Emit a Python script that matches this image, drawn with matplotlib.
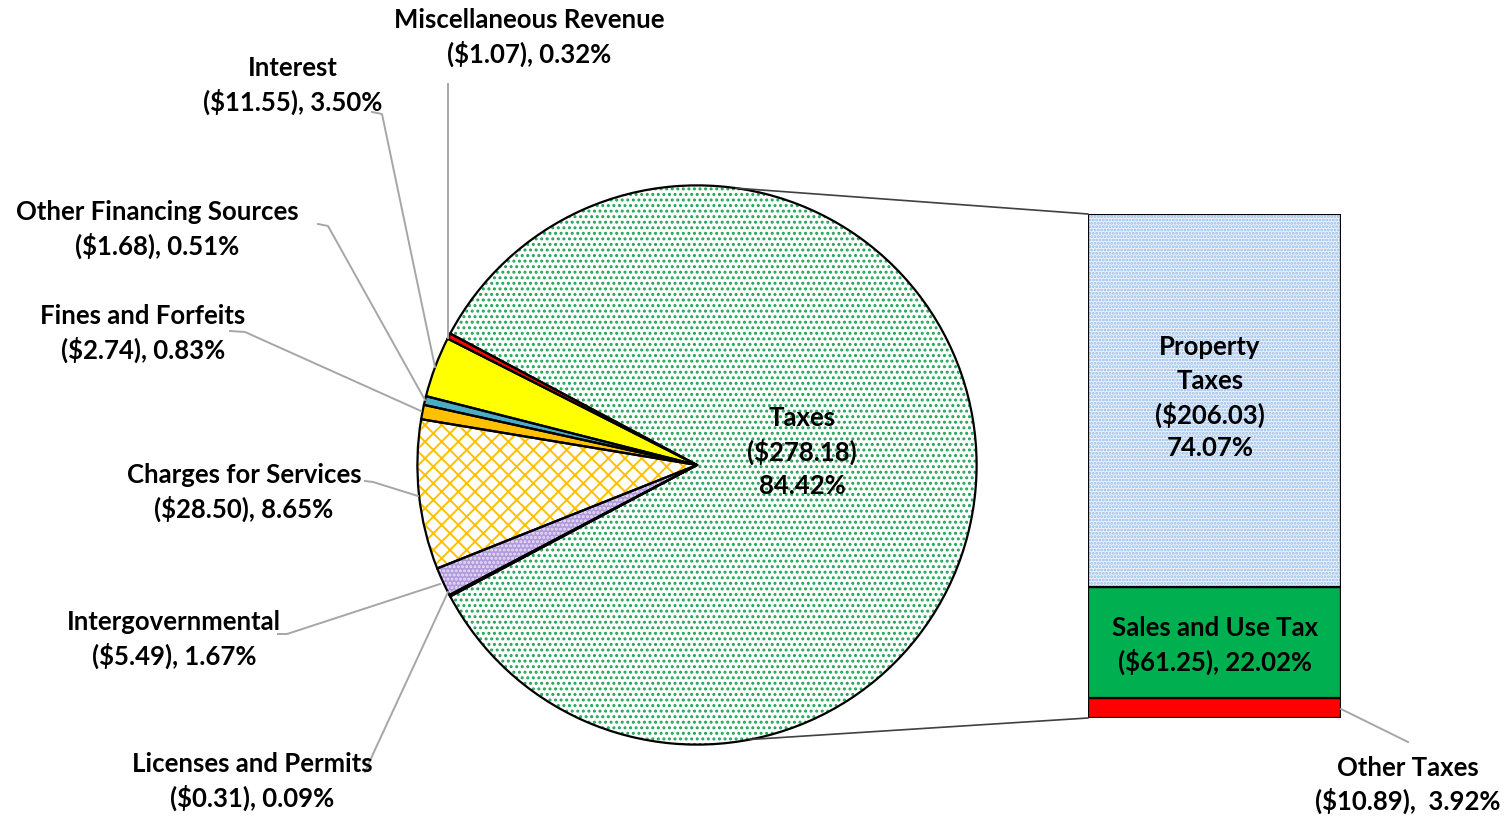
import matplotlib
matplotlib.use("Agg")
import matplotlib.pyplot as plt
from matplotlib.patches import ConnectionPatch
import numpy as np

plt.rcParams['font.family'] = ['Lato', 'DejaVu Sans']
plt.rcParams['hatch.linewidth'] = 1.4

# ---- data ----
pie_names = ["Miscellaneous Revenue", "Interest", "Other Financing Sources",
             "Fines and Forfeits", "Charges for Services", "Intergovernmental",
             "Licenses and Permits", "Taxes"]
pie_values = [1.07, 11.55, 1.68, 2.74, 28.50, 5.49, 0.31, 278.18]
pie_pcts = [0.32, 3.50, 0.51, 0.83, 8.65, 1.67, 0.09, 84.42]

bar_names = ["Other Taxes", "Sales and Use Tax", "Property Taxes"]
bar_values = [10.89, 61.25, 206.03]
bar_pcts = [3.92, 22.02, 74.07]

# ---- styles ----
pie_face = ["#FF0000", "#FFFF00", "#4BACC6", "#FFC000", "#FFFFFF", "#B09ADB", "#7F7F7F", "#FFFFFF"]
pie_hatch = [None, None, None, None, "xx", "....", None, "..."]
pie_hcol = [None, None, None, None, "#FFC000", "#E9E1F5", None, "#1FA455"]

W, H = 1508, 820
fig = plt.figure(figsize=(W / 100, H / 100), dpi=100)

# pie axes: centre (697,466), radius 281 px
cx, cy, r = 697, 466, 281
pax = fig.add_axes([(cx - r) / W, (H - cy - r) / H, 2 * r / W, 2 * r / H])
small = sum(pie_values[:-1]) / sum(pie_values) * 360
start = 180 - small / 2
w1, _ = pax.pie(pie_values, startangle=start, counterclock=True, radius=1,
                wedgeprops=dict(linewidth=0))
for w, fc, hc, hcol in zip(w1, pie_face, pie_hatch, pie_hcol):
    w.set_facecolor(fc)
    if hc:
        w.set_hatch(hc)
        w.set_edgecolor(hcol)
w2, _ = pax.pie(pie_values, startangle=start, counterclock=True, radius=1,
                wedgeprops=dict(fill=False, edgecolor="black", linewidth=1.6))
pax.set_xlim(-1.005, 1.005)
pax.set_ylim(-1.005, 1.005)
pax.axis("off")

# bar axes
bl, br, bt, bb = 1088, 1341, 215, 719
bax = fig.add_axes([bl / W, (H - bb) / H, (br - bl) / W, (bb - bt) / H])
bar_face = ["#FF0000", "#00B050", "#EEF4FC"]
bar_hatch = [None, None, "....."]
bottom = 0
for v, fc, hc in zip(bar_values, bar_face, bar_hatch):
    b = bax.bar(0, v, bottom=bottom, width=1, color=fc, linewidth=0)[0]
    if hc:
        b.set_hatch(hc)
        b.set_edgecolor("#93BBEA")
    bax.bar(0, v, bottom=bottom, width=1, fill=False, edgecolor="black", linewidth=1.6)
    bottom += v
bax.set_xlim(-0.5, 0.5)
bax.set_ylim(0, sum(bar_values))
bax.axis("off")

# overlay axes for labels and leader lines (pixel coordinates)
ax = fig.add_axes([0, 0, 1, 1])
ax.set_xlim(0, W)
ax.set_ylim(H, 0)
ax.axis("off")
ax.patch.set_alpha(0)

# connectors pie -> bar
for ang, yb in [(82, sum(bar_values)), (-79, 0)]:
    t = np.deg2rad(ang)
    con = ConnectionPatch(xyA=(np.cos(t), np.sin(t)), coordsA=pax.transData,
                          xyB=(-0.5, yb), coordsB=bax.transData,
                          color="#404040", linewidth=1.2)
    fig.add_artist(con)

fs = 18.5
lc = "#A6A6A6"

def label(lines, x, y0, pitch=34):
    for i, s in enumerate(lines):
        ax.text(x, y0 + i * pitch, s, ha="center", va="center", fontsize=fs,
                fontweight="bold", color="black", zorder=5)

def fmt_money(v):
    return f"(${v:.2f})"

# pie labels (positions in px)
lab_pos = {
    "Miscellaneous Revenue": (529, 20),
    "Interest": (293, 68),
    "Other Financing Sources": (157, 212),
    "Fines and Forfeits": (143, 316),
    "Charges for Services": (244, 475),
    "Intergovernmental": (174, 622),
    "Licenses and Permits": (252, 764),
}
for n, v, p in zip(pie_names, pie_values, pie_pcts):
    if n in lab_pos:
        x, y = lab_pos[n]
        label([n, f"{fmt_money(v)}, {p:.2f}%"], x, y)
label([pie_names[-1], fmt_money(pie_values[-1]), f"{pie_pcts[-1]:.2f}%"], 802, 418)

# leader lines
leaders = [
    [(448, 85), (448, 339)],
    [(372, 113), (382, 115), (435, 368)],
    [(318, 225), (328, 227), (425, 401)],
    [(230, 332), (245, 333), (421, 412)],
    [(365, 482), (373, 483), (418, 497)],
    [(278, 635), (287, 635), (440, 585)],
    [(365, 773), (373, 755), (448, 593)],
    [(1341, 710), (1408, 743)],
]
for pts in leaders:
    xs, ys = zip(*pts)
    ax.plot(xs, ys, color=lc, linewidth=1.4, zorder=1)

# bar labels
label(["Property", "Taxes", fmt_money(bar_values[2]), f"{bar_pcts[2]:.2f}%"], 1210, 347, pitch=33.7)
label([bar_names[1], f"{fmt_money(bar_values[1])}, {bar_pcts[1]:.2f}%"], 1215, 628)
label([bar_names[0], f"{fmt_money(bar_values[0])},  {bar_pcts[0]:.2f}%"], 1408, 768, pitch=33)

fig.savefig("out.png", dpi=100)
